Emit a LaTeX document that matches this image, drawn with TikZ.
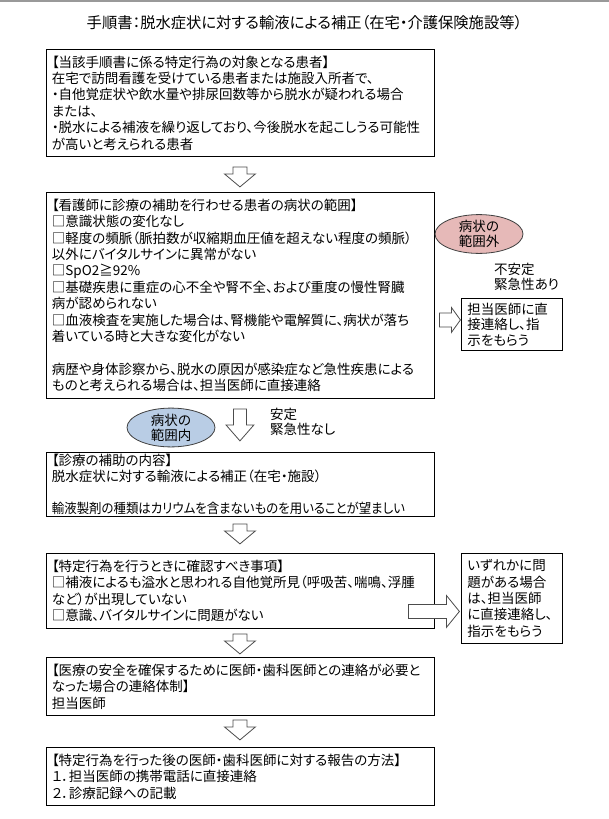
\documentclass[tikz,border=0pt]{standalone}
\usepackage{fontspec}
\usepackage{graphicx}
\setmainfont{Noto Sans CJK JP}[RawFeature={+palt}]
\usetikzlibrary{shapes.geometric,calc}
\newcommand\myfont{\fontsize{13.5}{16.4}\selectfont}
\newcommand\mytitlefont{\fontsize{15.3}{17}\selectfont}
\begin{document}
\begin{tikzpicture}[x=1pt,y=-1pt,
  box/.style={draw=black,line width=0.9pt,fill=white,anchor=north west,
    inner xsep=6pt,inner ysep=0pt,align=left,font=\myfont},
  wide/.style={box,text width=376pt},
  narrow/.style={box,text width=89pt},
  oval/.style={ellipse,draw=black!75,line width=0.8pt,minimum width=88pt,
    minimum height=38pt,inner sep=0pt,align=center,font=\fontsize{13.5}{15}\selectfont},
  lbl/.style={anchor=north west,inner sep=0pt,align=left,font=\fontsize{13.5}{15}\selectfont},
  arrowline/.style={draw=black!70,line width=0.8pt,fill=white,line join=miter},
  dsmall/.pic={\path[arrowline] (-7,0) -- (-7,7) -- (-15.5,7) -- (0,20) -- (15.5,7) -- (7,7) -- (7,0) -- cycle;},
  dbig/.pic={\path[arrowline] (-6.5,0) -- (-6.5,16) -- (-14,16) -- (0,32) -- (14,16) -- (6.5,16) -- (6.5,0) -- cycle;},
  rshort/.pic={\path[arrowline] (0,-7) -- (12,-7) -- (12,-12.5) -- (21,0) -- (12,12.5) -- (12,7) -- (0,7) -- cycle;},
  rlong/.pic={\path[arrowline] (0,-7) -- (38,-7) -- (38,-16) -- (51,0) -- (38,16) -- (38,7) -- (0,7) -- cycle;}
]
\useasboundingbox (0,0) rectangle (609,819);
\fill[white] (0,0) rectangle (609,819);
\draw[black!40,line width=1.5pt] (0,0.75) -- (609,0.75);

\node[font=\mytitlefont,inner sep=0pt] (title) at (304.5,23) {手順書：脱水症状に対する輸液による補正（在宅・介護保険施設等）};

\node[wide,minimum height=107pt] (b1) at (45.5,49) {【当該手順書に係る特定行為の対象となる患者】\\
在宅で訪問看護を受けている患者または施設入所者で、\\
・自他覚症状や飲水量や排尿回数等から脱水が疑われる場合\\
または、\\
・脱水による補液を繰り返しており、今後脱水を起こしうる可能性\\
が高いと考えられる患者};

\node[wide,minimum height=206pt] (b2) at (45.5,192) {【看護師に診療の補助を行わせる患者の病状の範囲】\\
□意識状態の変化なし\\
□軽度の頻脈（脈拍数が収縮期血圧値を超えない程度の頻脈）\\
以外にバイタルサインに異常がない\\
□SpO2≧92\%\\
□基礎疾患に重症の心不全や腎不全、および重度の慢性腎臓\\
病が認められない\\
□血液検査を実施した場合は、腎機能や電解質に、病状が落ち\\
着いている時と大きな変化がない\\[16.4pt]
病歴や身体診察から、脱水の原因が感染症など急性疾患による\\
ものと考えられる場合は、担当医師に直接連絡};

\node[wide,minimum height=64pt,font=\fontsize{13.5}{15.9}\selectfont] (b3) at (45.5,452) {【診療の補助の内容】\\
脱水症状に対する輸液による補正（在宅・施設）\\[15.9pt]
\scalebox{0.92}[1]{輸液製剤の種類はカリウムを含まないものを用いることが望ましい}};

\node[wide,minimum height=75pt] (b4) at (45.5,553) {【特定行為を行うときに確認すべき事項】\\
□補液によるも溢水と思われる自他覚所見（呼吸苦、喘鳴、浮腫\\
など）が出現していない\\
□意識、バイタルサインに問題がない};

\node[wide,minimum height=58pt] (b6) at (45.5,657) {【医療の安全を確保するために医師・歯科医師との連絡が必要と\\
なった場合の連絡体制】\\
担当医師};

\node[wide,minimum height=58pt] (b7) at (45.5,747) {【特定行為を行った後の医師・歯科医師に対する報告の方法】\\
１．担当医師の携帯電話に直接連絡\\
２．診療記録への記載};

\node[narrow,minimum height=52pt,font=\fontsize{13.5}{15.5}\selectfont] (r1) at (461,298) {担当医師に直\\接連絡し、指\\示をもらう};

\node[narrow,minimum height=90pt] (b5) at (461,553) {いずれかに問\\題がある場合\\は、担当医師\\に直接連絡し、\\指示をもらう};

\node[oval,fill={rgb,255:red,230;green,185;blue,184}] (out) at (479,234) {病状の\\範囲外};
\node[oval,fill={rgb,255:red,185;green,205;blue,229}] (in) at (171,427.5) {病状の\\範囲内};

\node[lbl] (unstable) at (494,263) {不安定\\緊急性あり};
\node[lbl] (stable) at (270,408) {安定\\緊急性なし};

\pic at ($(b1.south)+(0,10)$) {dsmall};
\pic at ($(b2.south)+(0,10)$) {dbig};
\pic at ($(b3.south)+(0,7)$) {dsmall};
\pic at ($(b4.south)+(0,5)$) {dsmall};
\pic at ($(b6.south)+(0,4)$) {dsmall};
\pic at ($(b2.east|-r1.west)+(5,-4.5)$) {rshort};
\pic at ($(b4.east|-b5.west)+(-26,13)$) {rlong};
\end{tikzpicture}
\end{document}
